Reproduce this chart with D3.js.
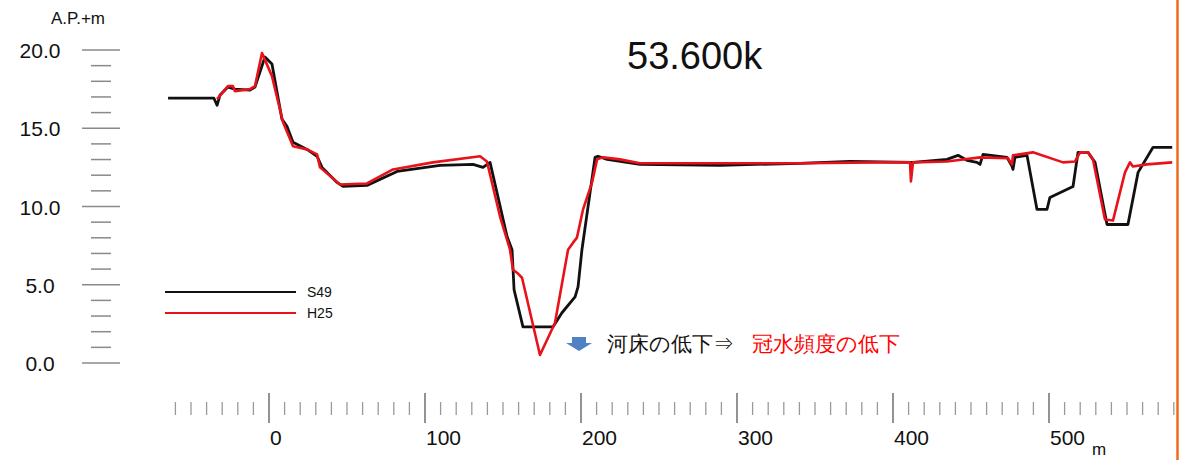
<!DOCTYPE html>
<html>
<head>
<meta charset="utf-8">
<script src="https://cdn.jsdelivr.net/npm/d3@7"></script>
<style>
  html, body { margin: 0; padding: 0; background: #fff; }
  svg { display: block; }
  text { font-family: "Liberation Sans", Arial, sans-serif; }
</style>
</head>
<body>
<svg id="chart" width="1184" height="460"></svg>
<script>
// ---- data ----
const chartTitle = "53.600k";
const yUnit = "A.P.+m";
const xUnit = "m";
const seriesNames = ["S49", "H25"];
const seriesColors = ["#111111", "#e8121a"];

// S49 cross-section (distance m, elevation A.P.+m)
const s49Dist = [-64.7, -35.3, -33.3, -31.4, -26.3, -21.8, -12.2, -9.0, -2.6, 1.9, 8.3, 11.5, 15.4, 24.4, 30.8, 34.0, 43.6, 47.4, 62.8, 82.1, 109.6, 130.8, 137.2, 141.7, 152.6, 155.8, 157.1, 162.8, 182.1, 187.8, 196.2, 198.1, 200.6, 209.0, 210.9, 216.7, 237.8, 289.1, 340.4, 372.4, 412.8, 434.6, 441.7, 447.4, 453.8, 455.8, 457.7, 473.1, 476.3, 476.9, 478.2, 485.9, 492.3, 498.7, 500.6, 515.4, 518.6, 525.0, 529.5, 537.2, 550.6, 557.1, 566.7, 579.0];
const s49Elev = [16.92, 16.92, 16.47, 17.12, 17.63, 17.50, 17.44, 17.63, 19.55, 19.10, 15.58, 15.13, 14.10, 13.65, 13.21, 12.50, 11.54, 11.28, 11.35, 12.24, 12.63, 12.69, 12.50, 12.82, 8.08, 7.24, 4.68, 2.31, 2.31, 3.21, 4.23, 4.87, 7.24, 13.14, 13.21, 13.01, 12.69, 12.63, 12.76, 12.88, 12.82, 13.01, 13.27, 12.95, 12.82, 12.69, 13.33, 13.14, 12.56, 12.37, 13.14, 13.27, 9.81, 9.81, 10.58, 11.28, 13.46, 13.46, 12.82, 8.85, 8.85, 12.18, 13.78, 13.78];

// H25 cross-section
const h25Dist = [-33.3, -26.3, -23.1, -21.8, -12.2, -9.0, -4.5, 1.9, 9.0, 15.4, 24.4, 30.8, 32.7, 45.5, 62.8, 79.5, 105.1, 135.3, 139.7, 148.1, 154.5, 156.4, 159.0, 162.2, 173.7, 183.3, 191.7, 194.9, 197.4, 201.3, 207.1, 210.3, 214.1, 225.0, 237.8, 289.1, 340.4, 391.7, 410.9, 411.5, 412.8, 434.6, 455.8, 473.7, 476.3, 476.9, 489.7, 509.0, 516.7, 519.9, 525.0, 528.2, 535.9, 541.0, 548.7, 551.9, 553.8, 562.8, 579.0];
const h25Elev = [16.86, 17.69, 17.69, 17.37, 17.50, 17.69, 19.81, 18.33, 15.38, 13.85, 13.65, 13.33, 12.50, 11.41, 11.47, 12.37, 12.82, 13.21, 12.88, 9.36, 7.24, 5.96, 5.77, 5.45, 0.51, 2.56, 7.24, 7.69, 8.01, 9.81, 11.54, 13.01, 13.14, 13.01, 12.76, 12.76, 12.76, 12.82, 12.82, 11.60, 12.82, 12.88, 13.14, 13.08, 12.69, 13.27, 13.46, 12.82, 12.88, 13.46, 13.46, 13.01, 9.17, 9.10, 12.18, 12.82, 12.56, 12.69, 12.82];

const yTickValues = [0, 5, 10, 15, 20];
const yTickLabels = ["0.0", "5.0", "10.0", "15.0", "20.0"];
const xTickValues = [0, 100, 200, 300, 400, 500];
const xTickLabels = ["0", "100", "200", "300", "400", "500"];
const annotationBlack = "河床の低下⇒";
const annotationRed = "冠水頻度の低下";

// ---- scales ----
const x = d3.scaleLinear().domain([0, 500]).range([269, 1049]);
const y = d3.scaleLinear().domain([0, 20]).range([363, 50]);

const svg = d3.select("#chart");
svg.append("rect").attr("width", 1184).attr("height", 460).attr("fill", "#fff");

// ---- y axis (floating tick lines) ----
const yMinor = d3.range(0, 20.01, 1).filter(v => v % 5 !== 0);
svg.append("g").selectAll("line").data(yMinor).join("line")
  .attr("x1", 91).attr("x2", 111)
  .attr("y1", d => y(d)).attr("y2", d => y(d))
  .attr("stroke", "#8a8a8a").attr("stroke-width", 1.5);
svg.append("g").selectAll("line").data(yTickValues).join("line")
  .attr("x1", 82).attr("x2", 120)
  .attr("y1", d => y(d)).attr("y2", d => y(d))
  .attr("stroke", "#8a8a8a").attr("stroke-width", 1.5);
svg.append("g").selectAll("text").data(yTickValues).join("text")
  .attr("x", 40).attr("y", d => y(d) + 8)
  .attr("text-anchor", "middle")
  .attr("font-size", 21).attr("fill", "#111")
  .text((d, i) => yTickLabels[i]);
svg.append("text").attr("x", 51).attr("y", 24)
  .attr("font-size", 17).attr("fill", "#111").text(yUnit);

// ---- x axis (floating tick ruler) ----
const xMinor = d3.range(-60, 581, 10).filter(v => v % 100 !== 0);
svg.append("g").selectAll("line").data(xMinor).join("line")
  .attr("x1", d => x(d)).attr("x2", d => x(d))
  .attr("y1", 402).attr("y2", 415)
  .attr("stroke", "#9a9a9a").attr("stroke-width", 1.3);
svg.append("g").selectAll("line").data(xTickValues).join("line")
  .attr("x1", d => x(d)).attr("x2", d => x(d))
  .attr("y1", 393).attr("y2", 423)
  .attr("stroke", "#666").attr("stroke-width", 1.4);
svg.append("g").selectAll("text").data(xTickValues).join("text")
  .attr("x", d => x(d) + 1).attr("y", 445)
  .attr("font-size", 21).attr("fill", "#111")
  .text((d, i) => xTickLabels[i]);
svg.append("text").attr("x", 1092).attr("y", 455)
  .attr("font-size", 17).attr("fill", "#111").text(xUnit);

// ---- title ----
svg.append("text").attr("x", 627).attr("y", 69)
  .attr("font-size", 38).attr("fill", "#111").text(chartTitle);

// ---- series ----
const line = d3.line().x(d => x(d[0])).y(d => y(d[1]));
const s49 = s49Dist.map((d, i) => [d, s49Elev[i]]);
const h25 = h25Dist.map((d, i) => [d, h25Elev[i]]);
svg.append("path").datum(s49).attr("d", line)
  .attr("fill", "none").attr("stroke", seriesColors[0])
  .attr("stroke-width", 2.8).attr("stroke-linejoin", "round");
svg.append("path").datum(h25).attr("d", line)
  .attr("fill", "none").attr("stroke", seriesColors[1])
  .attr("stroke-width", 2.6).attr("stroke-linejoin", "round");

// ---- legend ----
const legend = svg.append("g");
seriesNames.forEach((name, i) => {
  const ly = 292 + i * 21;
  legend.append("line").attr("x1", 165).attr("x2", 296)
    .attr("y1", ly).attr("y2", ly)
    .attr("stroke", seriesColors[i]).attr("stroke-width", 2.2);
  legend.append("text").attr("x", 307).attr("y", ly + 5)
    .attr("font-size", 14).attr("fill", "#111").text(name);
});

// ---- annotation ----
svg.append("path")
  .attr("d", "M572,337 L586,337 L586,343 L592,343 L579,351 L566,343 L572,343 Z")
  .attr("fill", "#4f81c4");
svg.append("text").attr("x", 607).attr("y", 351)
  .attr("font-family", "'Noto Sans CJK JP', sans-serif")
  .attr("font-size", 21).attr("fill", "#111").text(annotationBlack);
svg.append("text").attr("x", 752).attr("y", 351)
  .attr("font-family", "'Noto Sans CJK JP', sans-serif")
  .attr("font-size", 21).attr("fill", "#ff0000").text(annotationRed);

// ---- right edge orange rule ----
svg.append("line").attr("x1", 1177.5).attr("x2", 1177.5)
  .attr("y1", 0).attr("y2", 460)
  .attr("stroke", "#f26b1d").attr("stroke-width", 2.5);
</script>
</body>
</html>
